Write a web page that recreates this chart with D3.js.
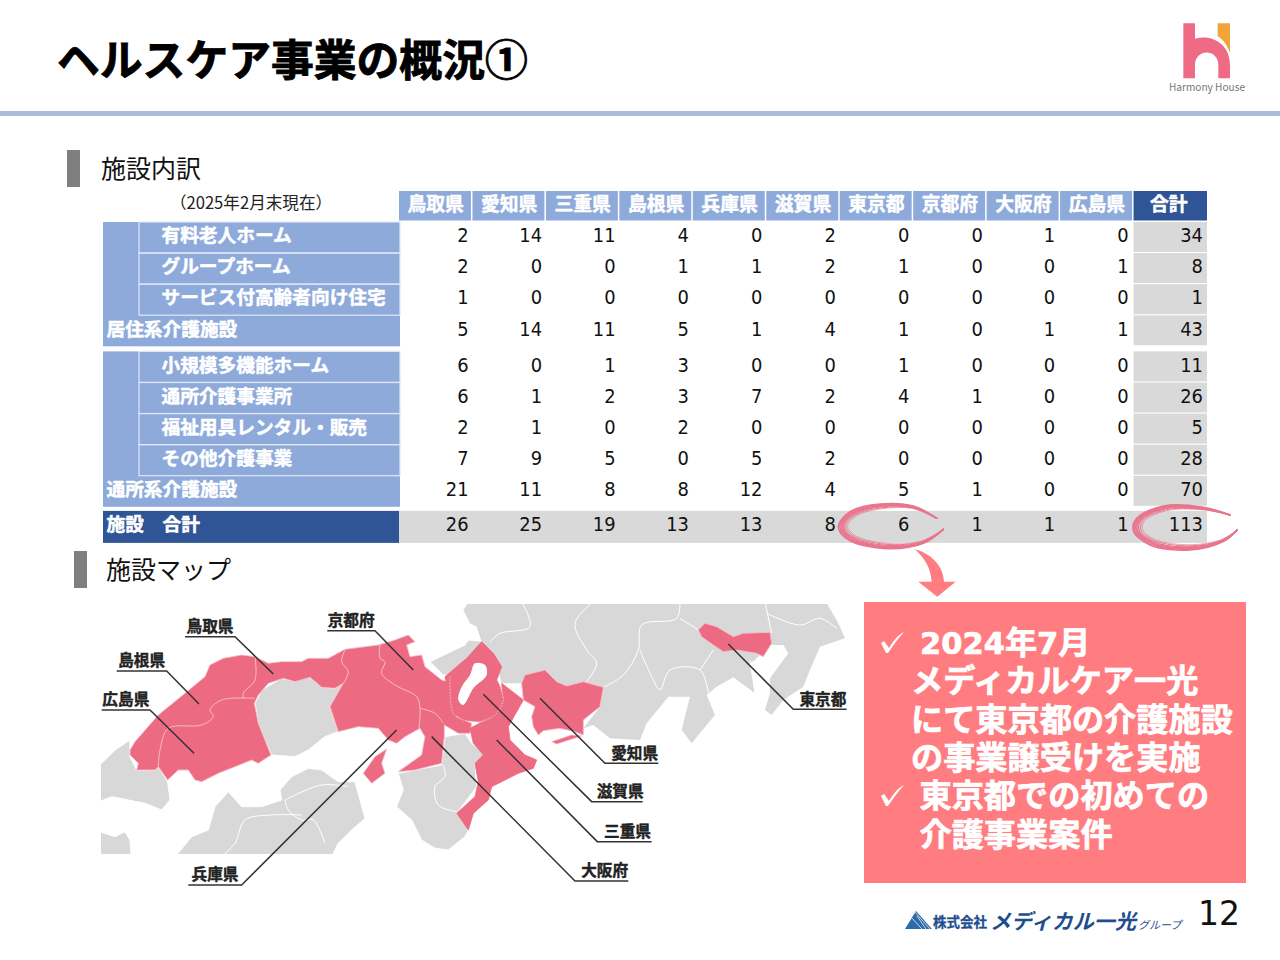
<!DOCTYPE html>
<html lang="ja">
<head>
<meta charset="utf-8">
<script src="https://cdn.jsdelivr.net/npm/d3@7"></script>
<style>
  html, body { margin: 0; padding: 0; background: #fff; }
  svg { display: block; }
  text { font-family: "Noto Sans CJK JP", "Noto Sans", sans-serif; }
  .num { font-family: "DejaVu Sans", sans-serif; }
</style>
</head>
<body>
<div id="chart"></div>
<script>
// table data
const prefectures = ["鳥取県", "愛知県", "三重県", "島根県", "兵庫県", "滋賀県", "東京都", "京都府", "大阪府", "広島県"];
const totalLabel = "合計";
const rowLabels = ["有料老人ホーム", "グループホーム", "サービス付高齢者向け住宅", "居住系介護施設",
  "小規模多機能ホーム", "通所介護事業所", "福祉用具レンタル・販売", "その他介護事業", "通所系介護施設", "施設　合計"];
const rowYuryo = [2, 14, 11, 4, 0, 2, 0, 0, 1, 0, 34];
const rowGroup = [2, 0, 0, 1, 1, 2, 1, 0, 0, 1, 8];
const rowService = [1, 0, 0, 0, 0, 0, 0, 0, 0, 0, 1];
const rowKyoju = [5, 14, 11, 5, 1, 4, 1, 0, 1, 1, 43];
const rowShokibo = [6, 0, 1, 3, 0, 0, 1, 0, 0, 0, 11];
const rowTsusho = [6, 1, 2, 3, 7, 2, 4, 1, 0, 0, 26];
const rowFukushi = [2, 1, 0, 2, 0, 0, 0, 0, 0, 0, 5];
const rowOther = [7, 9, 5, 0, 5, 2, 0, 0, 0, 0, 28];
const rowTsushoKei = [21, 11, 8, 8, 12, 4, 5, 1, 0, 0, 70];
const rowTotal = [26, 25, 19, 13, 13, 8, 6, 1, 1, 1, 113];
const rowValues = [rowYuryo, rowGroup, rowService, rowKyoju, rowShokibo, rowTsusho, rowFukushi, rowOther, rowTsushoKei, rowTotal];

const calloutLines = ["メディカルケア一光", "にて東京都の介護施設", "の事業譲受けを実施", "東京都での初めての", "介護事業案件"];

const svg = d3.select("#chart").append("svg").attr("width", 1280).attr("height", 960);
const BLUE = "#8eaadb", NAVY = "#2f5597", GREY = "#d9d9d9", PINK = "#ff7c80", MAPPINK = "#ec6a82", MAPGREY = "#d9d8d8", SEAM = "#f6bcc8";

// title and headings
svg.append("text").attr("x", 57).attr("y", 76).attr("font-size", 42.8).attr("font-weight", 700)
  .attr("stroke", "#000").attr("stroke-width", 0.9).text("ヘルスケア事業の概況①");
svg.append("rect").attr("x", 0).attr("y", 111).attr("width", 1280).attr("height", 5).attr("fill", "#a9bcdb");

function heading(x, barY, textX, label) {
  svg.append("rect").attr("x", x).attr("y", barY).attr("width", 13).attr("height", 37).attr("fill", "#7f7f7f");
  svg.append("text").attr("x", textX).attr("y", barY + 28).attr("font-size", 25).attr("fill", "#111").text(label);
}
heading(67, 150, 101, "施設内訳");
heading(74, 551, 106, "施設マップ");

svg.append("text").attr("x", 251).attr("y", 209).attr("text-anchor", "middle").attr("font-size", 16.6).attr("fill", "#222").text("（2025年2月末現在）");

// table
const x = d3.scaleBand().domain([...prefectures, totalLabel]).range([399, 1207]);
const rowY = d3.scaleLinear().domain([0, 10]).range([222, 533]);
const rowTop = i => rowY(i) + (i >= 9 ? 9 : i >= 4 ? 5 : 0);
const rowText = i => rowTop(i) + (i < 3 ? 19.7 : 20.5);
const rowH = 30;
const table = svg.append("g");

// header cells
table.selectAll("rect.head").data(x.domain()).join("rect").attr("class", "head")
  .attr("x", d => x(d)).attr("y", 191).attr("width", d => d === totalLabel ? x.bandwidth() : x.bandwidth() - 1.5).attr("height", 29.5)
  .attr("fill", d => d === totalLabel ? NAVY : BLUE);
table.selectAll("text.head").data(x.domain()).join("text").attr("class", "head")
  .attr("x", d => x(d) + x.bandwidth() / 2 + (d === totalLabel ? -1.5 : 0)).attr("y", 210.5).attr("text-anchor", "middle")
  .attr("font-size", 18.8).attr("font-weight", 700).attr("fill", "#fff").attr("stroke", "#fff").attr("stroke-width", 0.5).text(d => d);

// row label cells
const groupRows = [[0, 3], [4, 8]];
groupRows.forEach(([a, b]) => {
  table.append("rect").attr("x", 103).attr("y", rowTop(a)).attr("width", 297)
    .attr("height", rowTop(b) + rowH + 1 - rowTop(a)).attr("fill", BLUE);
  d3.range(a, b).forEach(i => {
    table.append("rect").attr("x", 139).attr("y", rowTop(i)).attr("width", 261).attr("height", rowH + 1)
      .attr("fill", "none").attr("stroke", "#dfe7f5").attr("stroke-width", 1.2);
  });
});
table.append("rect").attr("x", 103).attr("y", rowTop(9)).attr("width", 296).attr("height", 32).attr("fill", NAVY);
table.append("rect").attr("x", 399).attr("y", rowTop(9)).attr("width", 808).attr("height", 32).attr("fill", GREY);

rowLabels.forEach((label, i) => {
  const isSub = i !== 3 && i !== 8 && i !== 9;
  table.append("text").attr("x", isSub ? 161.5 : 106.5).attr("y", rowText(i))
    .attr("font-size", 18.7).attr("font-weight", 700).attr("fill", "#fff").attr("stroke", "#fff").attr("stroke-width", 0.5)
    .attr("xml:space", "preserve").text(label);
});

// total column background
d3.range(0, 9).forEach(i => {
  table.append("rect").attr("x", x(totalLabel)).attr("y", rowTop(i)).attr("width", x.bandwidth()).attr("height", rowH)
    .attr("fill", GREY);
});

// numbers
rowValues.forEach((vals, i) => {
  table.selectAll(null).data(vals).join("text").attr("class", "num")
    .attr("x", (d, j) => x(x.domain()[j]) + x.bandwidth() - (j < 8 ? 3.8 : j === 10 ? 4 : 5))
    .attr("y", rowText(i)).attr("text-anchor", "end").attr("font-size", 19.5).attr("fill", "#111")
    .attr("textLength", d => String(d).length * 11.4).attr("lengthAdjust", "spacingAndGlyphs").text(d => d);
});

// hand drawn circles
const scribble = d3.line().curve(d3.curveCatmullRom);
const ring = svg.append("g").attr("transform", "translate(780,490) scale(0.3333)")
  .attr("fill", "none").attr("stroke", "#e8758d").attr("stroke-linecap", "round");
const ringA = [[470, 85], [400, 48], [300, 42], [210, 65], [175, 110], [205, 150], [320, 176], [430, 160], [490, 118]];
const ringB = [[1350, 75], [1270, 52], [1150, 48], [1070, 85], [1060, 122], [1110, 165], [1230, 180], [1330, 155], [1372, 120]];
const ringStrands = [[0, 4.5], [0.05, 4.5], [0.1, 4.5], [0.15, 4], [0.2, 3.5], [0.26, 3], [0.32, 2]];
[ringA, ringB].forEach(pts => {
  const cx = d3.mean(pts, p => p[0]), cy = d3.mean(pts, p => p[1]);
  const n = pts.length - 1;
  ringStrands.forEach(([inset, w]) => {
    ring.append("path").attr("stroke-width", w).attr("d", scribble(pts.map((p, k) => {
      const taper = Math.sin(Math.PI * k / n);
      return [cx + (p[0] - cx) * (1 - inset * 0.55 * taper), cy + (p[1] - cy) * (1 - inset * taper)];
    })));
  });
});
ring.append("path").attr("fill", PINK).attr("stroke", "none")
  .attr("d", "M405,178 C450,190 490,225 492,275 L527,275 L472,320 L415,275 L455,275 C452,235 435,205 405,178 Z");

// callout box
svg.append("rect").attr("x", 864).attr("y", 602).attr("width", 382).attr("height", 281).attr("fill", PINK);
const callout = svg.append("text").attr("fill", "#fff").attr("font-size", 32.2).attr("font-weight", 700)
  .attr("stroke", "#fff").attr("stroke-width", 0.7);
const first = callout.append("tspan").attr("x", 920).attr("y", 654);
first.append("tspan").attr("class", "num").attr("font-size", 30.5).text("2024");
first.append("tspan").text("年");
first.append("tspan").attr("class", "num").attr("font-size", 30.5).text("7");
first.append("tspan").text("月");
const calloutX = [911, 911, 911, 919.5, 919.5];
const calloutY = [692, 731, 769, 807, 846];
calloutLines.forEach((t, i) => callout.append("tspan").attr("x", calloutX[i]).attr("y", calloutY[i]).text(t));
[653, 806].forEach(y => svg.append("path").attr("fill", "#fff")
  .attr("d", `M881,${y - 10} L884,${y - 12} L889,${y - 5} C893,${y - 12} 898,${y - 18} 904,${y - 21} C897,${y - 13} 892,${y - 6} 888,${y} L886,${y} Z`));

// map, traced in two sections and clipped to the picture frame
svg.append("clipPath").attr("id", "map-clip").append("rect").attr("x", 101).attr("y", 604).attr("width", 745).attr("height", 250);
const mapClip = svg.append("g").attr("clip-path", "url(#map-clip)");
const mapW = mapClip.append("g").attr("transform", "translate(95,600) scale(0.3333)");
const mapE = mapClip.append("g").attr("transform", "translate(450,600) scale(0.3333)");
const poly = pts => "M" + pts.map(p => p.join(",")).join("L") + "Z";
const smooth = d3.line().curve(d3.curveCatmullRomClosed.alpha(0.5));

function border(g, pts, colour, dash) {
  g.append("path").attr("d", d3.line().curve(d3.curveCatmullRom)(pts)).attr("fill", "none").attr("stroke", colour)
    .attr("stroke-width", 3).attr("stroke-dasharray", dash || null);
}

// grey land, west
[[[20, 490], [60, 450], [105, 420], [105, 470], [125, 510], [180, 510], [190, 500], [218, 545], [225, 600], [200, 630], [150, 610], [100, 600], [50, 590], [0, 610], [0, 480]],
 [[480, 310], [500, 270], [560, 235], [600, 245], [640, 228], [680, 262], [720, 265], [745, 250], [735, 285], [705, 320], [730, 395], [690, 410], [640, 450], [600, 470], [530, 465], [510, 420], [490, 370]],
 [[400, 575], [440, 620], [500, 620], [560, 600], [555, 570], [590, 530], [640, 505], [680, 510], [730, 545], [780, 545], [810, 655], [770, 690], [730, 730], [700, 790], [225, 790], [290, 710], [340, 690], [360, 620]],
 [[0, 690], [60, 710], [90, 695], [105, 720], [110, 790], [0, 790]],
 [[910, 520], [960, 510], [1040, 495], [1050, 410], [1110, 400], [1130, 430], [1170, 465], [1140, 490], [1145, 560], [1085, 640], [1120, 690], [1110, 710], [1060, 750], [1020, 745], [980, 720], [950, 660], [905, 620], [925, 570]],
 [[1005, 185], [1110, 135], [1120, 120], [1170, 125], [1075, 225], [1045, 225]]
].forEach(p => mapW.append("path").attr("d", poly(p)).attr("fill", MAPGREY).attr("stroke", "#fff").attr("stroke-width", 3));

// grey land, east
mapE.append("path").attr("fill", MAPGREY)
  .attr("d", poly([[40, 30], [60, 0], [1125, 0], [1165, 70], [1185, 115], [1110, 140], [1080, 210], [1060, 260], [1000, 300], [965, 345], [945, 330], [960, 280], [960, 235], [1015, 160], [1000, 135], [960, 135], [915, 180], [900, 190], [915, 280], [850, 232], [800, 260], [770, 285], [795, 345], [725, 430], [695, 390], [720, 290], [655, 290], [590, 370], [570, 420], [480, 415], [430, 375], [400, 385], [450, 320], [460, 262], [400, 245], [350, 258], [320, 245], [285, 210], [225, 225], [215, 250], [155, 250], [130, 160], [95, 125], [80, 80], [60, 70]]));

[[[120, 125], [150, 100], [240, 80], [215, 5]],
 [[430, 5], [375, 70], [410, 150], [440, 190], [410, 245]],
 [[460, 262], [520, 225], [565, 150], [575, 75], [680, 55], [690, 5]],
 [[570, 150], [610, 240], [630, 270], [660, 210], [750, 210], [775, 280]],
 [[750, 210], [790, 150]],
 [[690, 55], [745, 90]],
 [[945, 5], [965, 100]],
 [[950, 40], [1050, 75], [1110, 55], [1160, 85]],
 [[900, 180], [915, 280]]
].forEach(p => border(mapE, p, "#fff"));
[[[570, 600], [580, 630], [620, 660], [655, 660], [690, 730]],
 [[570, 600], [680, 555], [760, 560]],
 [[620, 645], [530, 645], [450, 660], [420, 730], [380, 770]],
 [[1045, 495], [1050, 530], [1020, 560], [1030, 615], [1085, 635]]
].forEach(p => border(mapW, p, "#fff"));

// pink prefectures, west
[[[105, 450], [120, 425], [190, 345], [270, 280], [330, 230], [345, 195], [385, 175], [440, 165], [480, 170], [520, 190], [560, 185], [620, 185], [640, 175], [700, 175], [750, 148], [850, 135], [900, 120], [940, 105], [960, 125], [935, 135], [945, 170], [980, 165], [990, 200], [1040, 240], [1075, 250], [1085, 350], [1130, 370], [1125, 400], [1090, 400], [1048, 375], [1048, 410], [1040, 490], [960, 510], [910, 515], [980, 465], [990, 410], [975, 385], [930, 410], [905, 430], [880, 420], [850, 385], [790, 380], [730, 395], [705, 320], [745, 250], [720, 265], [680, 262], [645, 232], [600, 245], [565, 235], [520, 250], [490, 285], [478, 310], [490, 370], [510, 420], [528, 465], [490, 490], [470, 480], [420, 500], [370, 520], [320, 545], [300, 540], [280, 510], [250, 510], [218, 540], [190, 500], [180, 510], [125, 510], [130, 490], [105, 465]],
 [[875, 447], [860, 490], [870, 520], [830, 550], [805, 520], [840, 470]]
].forEach(p => mapW.append("path").attr("d", poly(p)).attr("fill", MAPPINK).attr("stroke", SEAM).attr("stroke-width", 2.5).attr("stroke-linejoin", "round"));
[[[190, 500], [195, 450], [220, 385], [320, 375], [355, 350], [345, 330], [380, 300], [480, 295]],
 [[480, 170], [480, 240], [445, 280], [445, 297]],
 [[750, 150], [740, 185], [760, 215], [745, 250]],
 [[855, 135], [855, 175], [870, 185], [860, 220], [900, 255], [965, 290], [975, 325], [972, 385]],
 [[975, 325], [1020, 340], [1045, 370]]
].forEach(p => border(mapW, p, SEAM));

// pink prefectures, east; shiga and mie share a solid join with kyoto
[[[95, 125], [130, 160], [155, 200], [140, 240], [150, 260], [160, 300], [135, 345], [90, 365], [40, 360], [10, 340], [-15, 230], [50, 175]],
 [[155, 250], [220, 300], [175, 380], [180, 420], [225, 465], [260, 480], [250, 505], [205, 520], [125, 560], [115, 600], [70, 640], [55, 690], [20, 640], [75, 590], [85, 545], [75, 490], [100, 465], [70, 430], [60, 385], [135, 345], [160, 300]]
].forEach(p => mapE.append("path").attr("d", poly(p)).attr("fill", MAPPINK).attr("stroke", MAPPINK).attr("stroke-width", 2.5).attr("stroke-linejoin", "round"));
[[[215, 250], [225, 225], [285, 210], [320, 245], [350, 258], [400, 245], [460, 262], [450, 320], [400, 360], [400, 405], [375, 395], [330, 385], [280, 392], [265, 405], [250, 380], [245, 350], [255, 320], [220, 300]],
 [[305, 425], [365, 405], [395, 408], [320, 432]],
 [[745, 90], [765, 70], [800, 80], [850, 110], [880, 100], [960, 97], [965, 130], [940, 170], [920, 160], [860, 150], [820, 155], [790, 135], [755, 110]]
].forEach(p => mapE.append("path").attr("d", poly(p)).attr("fill", MAPPINK).attr("stroke", SEAM).attr("stroke-width", 2.5).attr("stroke-linejoin", "round"));
border(mapE, [[0, 230], [10, 340], [40, 360], [90, 365], [135, 345], [160, 300], [150, 260]], SEAM, "5 4");
mapE.append("path").attr("d", smooth([[75, 190], [105, 195], [110, 225], [70, 265], [40, 315], [25, 300], [35, 260], [60, 225]])).attr("fill", "#fff");

// leader lines with underlined labels, drawn over the clip
const leadW = svg.append("g").attr("transform", "translate(95,600) scale(0.3333)");
const leadE = svg.append("g").attr("transform", "translate(450,600) scale(0.3333)");
function leader(g, name, x0, x1, yLine, tipX, tipY, fromRight) {
  const elbow = fromRight ? x1 : x0;
  const other = fromRight ? x0 : x1;
  g.append("path").attr("fill", "none").attr("stroke", "#333").attr("stroke-width", 4.5)
    .attr("d", d3.line()([[elbow, yLine], [other, yLine], [tipX, tipY]]));
  g.append("text").attr("x", (x0 + x1) / 2 + (fromRight ? 9 : 0)).attr("y", yLine - 14).attr("text-anchor", "middle")
    .attr("font-size", 47).attr("font-weight", 700).attr("fill", "#222").attr("stroke", "#222").attr("stroke-width", 1.2).text(name);
}
leader(leadW, "鳥取県", 270, 420, 110, 535, 222);
leader(leadW, "島根県", 65, 215, 213, 312, 312);
leader(leadW, "広島県", 20, 165, 330, 297, 460);
leader(leadW, "京都府", 697, 840, 92, 955, 210);
leader(leadW, "兵庫県", 280, 440, 855, 905, 390);
leader(leadE, "東京都", 1030, 1190, 328, 835, 132, true);
leader(leadE, "愛知県", 465, 625, 490, 270, 295, true);
leader(leadE, "滋賀県", 425, 578, 605, 100, 283, true);
leader(leadE, "三重県", 442, 605, 725, 140, 420, true);
leader(leadE, "大阪府", 375, 535, 843, -55, 410, true);

// harmony house logo
const logo = svg.append("g").attr("transform", "translate(1150,10) scale(0.3333)");
logo.append("path").attr("fill", "#f2a33a").attr("d", "M203,40 H240 V130 C232,105 220,90 203,78 Z");
logo.append("path").attr("fill", "#ee6a85").attr("d", "M100,40 H135 V86 C190,72 240,105 240,165 V205 H205 V165 C205,115 135,115 135,165 V205 H100 Z");
svg.append("text").attr("x", 1169).attr("y", 91).attr("font-size", 10.5)
  .attr("textLength", 76).attr("lengthAdjust", "spacingAndGlyphs").attr("fill", "#777").text("Harmony House");

// footer logo
const mark = svg.append("g");
mark.append("path").attr("fill", "#2d6aa8").attr("d", d3.line()([[905, 929], [916, 911], [932, 929]]));
mark.append("path").attr("fill", "none").attr("stroke", "#d5e3f2").attr("stroke-width", 0.9).attr("d", "M914,911 L930,929 M917,916 L926,929 M910,916 L922,929");
const foot = svg.append("g").attr("fill", "#1f4e8c");
foot.append("text").attr("x", 933).attr("y", 927).attr("font-size", 13.5).attr("font-weight", 700).attr("stroke", "#1f4e8c").attr("stroke-width", 0.3).text("株式会社");
foot.append("text").attr("x", 990).attr("y", 929).attr("font-size", 21).attr("font-weight", 700).attr("font-style", "italic").attr("textLength", 146).attr("lengthAdjust", "spacingAndGlyphs").text("メディカル一光");
foot.append("text").attr("x", 1138).attr("y", 929).attr("font-size", 11).attr("font-style", "italic").text("グループ");
svg.append("text").attr("class", "num").attr("x", 1198).attr("y", 925).attr("font-size", 33).attr("fill", "#111").text("12");
</script>
</body>
</html>
